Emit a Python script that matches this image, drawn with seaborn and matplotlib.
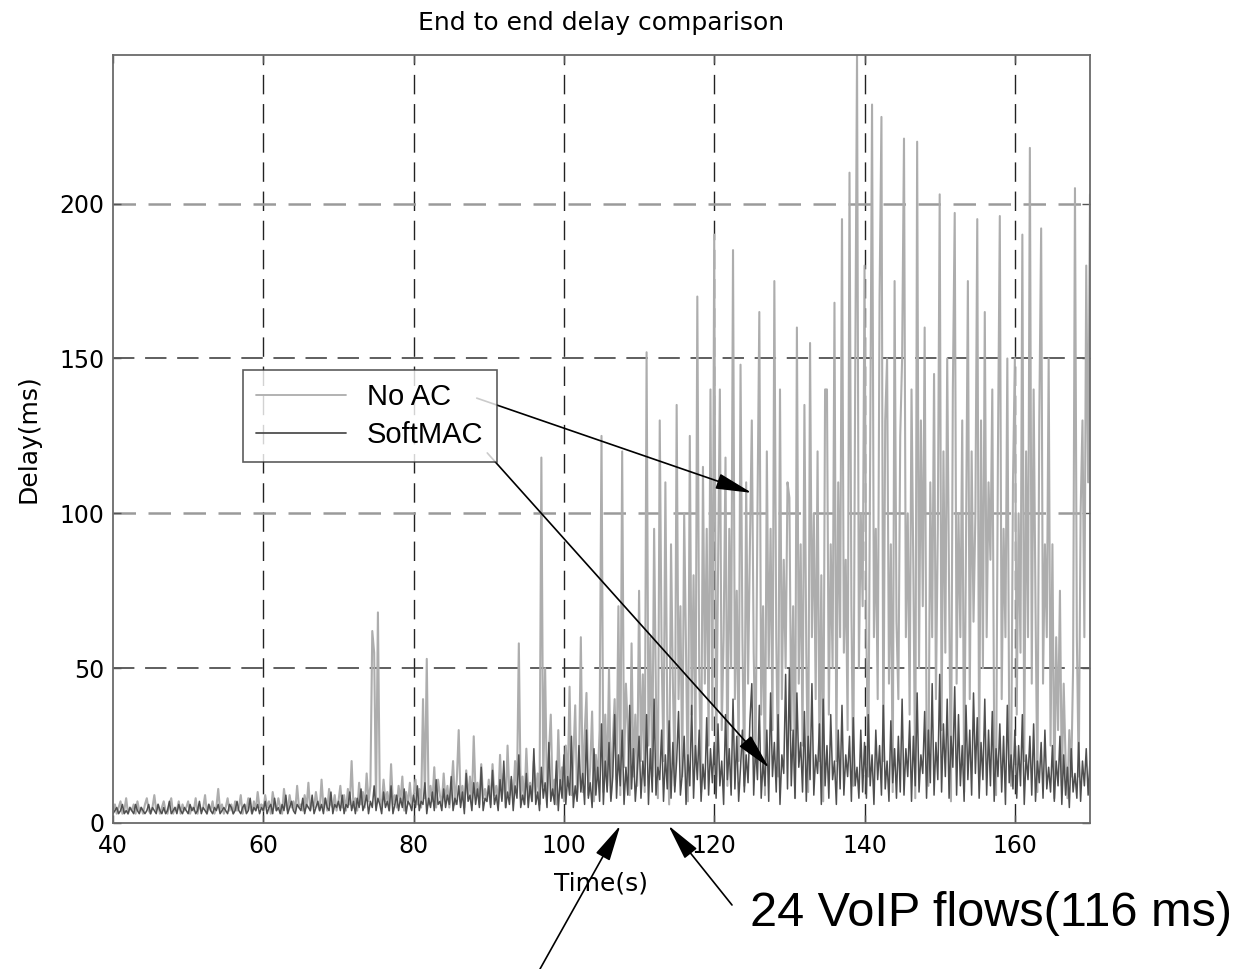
import numpy as np
import pandas as pd
import matplotlib
matplotlib.use("Agg")
import matplotlib.pyplot as plt
import seaborn as sns

# ============================================================================
# DATA  (delay in ms, sampled every 0.25 s from 40 s to 170 s)
# ============================================================================

time_start, time_end, time_step = 40, 170, 0.25

no_ac = [
    4, 6, 3, 5, 7, 3, 4, 8, 3, 5, 4, 6, 3, 7, 4, 5, 3, 6, 8, 4,              # 40
    3, 5, 9, 4, 6, 3, 5, 7, 4, 3, 6, 8, 3, 5, 4, 7, 3, 6, 4, 5,              # 45
    7, 3, 5, 4, 8, 3, 6, 4, 5, 9, 3, 6, 4, 7, 3, 5, 11, 4, 6, 3,             # 50
    5, 8, 4, 6, 3, 7, 4, 5, 9, 3, 6, 4, 8, 5, 3, 7, 4, 10, 5, 6,             # 55
    4, 9, 5, 7, 3, 10, 6, 4, 8, 5, 3, 11, 6, 4, 9, 5, 7, 4, 12, 5,           # 60
    6, 4, 9, 5, 13, 4, 7, 5, 10, 6, 4, 14, 5, 8, 4, 11, 6, 5, 9, 4,          # 65
    7, 12, 5, 9, 4, 11, 6, 20, 5, 8, 4, 13, 6, 10, 5, 16, 7, 12, 62, 55,     # 70
    6, 68, 8, 5, 14, 7, 10, 4, 19, 6, 9, 5, 12, 7, 15, 4, 10, 6, 13, 5,      # 75
    9, 14, 6, 11, 5, 40, 8, 53, 6, 12, 7, 18, 5, 14, 9, 6, 16, 7, 12, 5,     # 80
    10, 20, 6, 14, 30, 7, 12, 5, 17, 8, 15, 6, 28, 9, 13, 6, 19, 8, 11, 7,   # 85
    14, 6, 19, 9, 12, 6, 22, 8, 16, 5, 25, 9, 14, 7, 20, 10, 58, 8, 15, 6,   # 90
    24, 9, 13, 7, 20, 10, 16, 6, 118, 12, 50, 8, 22, 35, 9, 14, 6, 30, 11, 18,  # 95
    7, 25, 12, 44, 9, 20, 38, 8, 16, 60, 10, 28, 42, 9, 18, 36, 7, 22, 14, 30,  # 100
    125, 10, 35, 12, 50, 8, 26, 40, 14, 70, 9, 120, 18, 45, 30, 9, 58, 15, 35, 12,  # 105
    75, 20, 48, 10, 152, 25, 60, 15, 95, 40, 8, 130, 55, 20, 110, 35, 6, 90, 45, 12,  # 110
    135, 40, 70, 15, 100, 55, 7, 125, 35, 80, 20, 170, 50, 10, 115, 45, 95, 25, 140, 30,  # 115
    190, 15, 80, 140, 30, 60, 118, 12, 95, 50, 185, 40, 75, 20, 148, 60, 12, 110, 45, 90,  # 120
    130, 55, 20, 100, 165, 35, 70, 9, 120, 50, 95, 30, 175, 60, 15, 140, 40, 85, 50, 110,  # 125
    105, 30, 70, 8, 160, 45, 90, 25, 135, 55, 10, 155, 60, 100, 40, 120, 20, 80, 7, 140,  # 130
    140, 35, 90, 50, 168, 20, 110, 60, 195, 55, 85, 30, 210, 70, 12, 140, 248, 50, 100, 70,  # 135
    180, 60, 15, 120, 232, 60, 95, 40, 170, 228, 20, 130, 150, 45, 90, 10, 175, 65, 40, 125,  # 140
    150, 221, 60, 100, 35, 140, 80, 8, 220, 50, 130, 70, 160, 30, 12, 110, 60, 145, 40, 95,  # 145
    203, 30, 120, 55, 150, 75, 7, 140, 197, 45, 100, 60, 130, 10, 90, 175, 40, 120, 65, 100,  # 150
    195, 15, 130, 50, 165, 60, 110, 85, 140, 25, 9, 120, 196, 40, 95, 60, 150, 30, 12, 110,  # 155
    150, 35, 100, 55, 190, 20, 120, 60, 218, 45, 140, 70, 10, 130, 192, 45, 90, 60, 150, 25,  # 160
    90, 8, 60, 30, 75, 12, 45, 20, 8, 30, 15, 50, 205, 60, 15, 100, 130, 60, 180, 110,  # 165
    203,                                                                      # 170
]

softmac = [
    3, 4, 5, 3, 4, 6, 3, 4, 3, 5, 4, 3, 6, 4, 3, 5, 4, 3, 4, 6,              # 40
    3, 5, 4, 3, 6, 4, 3, 5, 3, 4, 7, 3, 4, 5, 3, 6, 4, 3, 5, 4,              # 45
    3, 6, 4, 5, 3, 4, 7, 3, 5, 4, 3, 6, 4, 3, 5, 4, 6, 3, 4, 5,              # 50
    4, 3, 6, 5, 3, 4, 7, 4, 3, 5, 6, 3, 4, 8, 3, 5, 4, 6, 3, 5,              # 55
    4, 7, 3, 5, 6, 3, 8, 4, 5, 3, 6, 4, 9, 3, 5, 7, 4, 3, 6, 5,              # 60
    4, 8, 3, 6, 5, 4, 9, 3, 5, 7, 4, 6, 3, 8, 5, 4, 10, 3, 6, 5,             # 65
    7, 4, 9, 3, 6, 5, 10, 4, 7, 3, 8, 5, 11, 4, 6, 9, 3, 7, 5, 12,           # 70
    4, 8, 6, 3, 10, 5, 7, 4, 12, 3, 6, 9, 4, 8, 5, 11, 3, 7, 6, 4,           # 75
    9, 5, 12, 4, 7, 6, 13, 3, 8, 5, 10, 4, 14, 6, 7, 4, 11, 5, 9, 6,         # 80
    15, 4, 8, 6, 12, 5, 10, 3, 16, 7, 9, 4, 13, 6, 11, 5, 18, 4, 8, 7,       # 85
    12, 5, 17, 6, 9, 4, 14, 7, 20, 5, 10, 6, 15, 4, 12, 8, 22, 5, 9, 6,      # 90
    16, 5, 12, 7, 24, 6, 10, 4, 18, 8, 13, 5, 26, 7, 11, 6, 20, 4, 14, 8,    # 95
    22, 6, 15, 9, 28, 5, 12, 7, 25, 10, 16, 6, 30, 8, 13, 5, 24, 9, 18, 7,   # 100
    32, 6, 20, 10, 26, 7, 15, 35, 8, 22, 12, 30, 6, 18, 9, 38, 11, 24, 7, 16,  # 105
    28, 8, 20, 12, 35, 6, 24, 10, 40, 9, 18, 14, 30, 7, 22, 11, 33, 8, 26, 10,  # 110
    20, 36, 9, 16, 28, 6, 22, 12, 38, 8, 25, 14, 30, 7, 19, 11, 34, 9, 24, 13,  # 115
    26, 8, 32, 12, 20, 6, 35, 14, 24, 9, 40, 11, 28, 7, 18, 30, 10, 22, 13, 33,  # 120
    45, 9, 25, 14, 38, 8, 20, 12, 30, 7, 42, 15, 26, 10, 35, 6, 22, 16, 48, 11,  # 125
    50, 12, 30, 8, 42, 18, 26, 10, 36, 7, 28, 14, 45, 9, 22, 16, 32, 6, 40, 12,  # 130
    25, 8, 35, 14, 20, 6, 30, 11, 38, 9, 22, 15, 28, 7, 34, 12, 18, 8, 30, 10,   # 135
    26, 8, 35, 12, 22, 6, 30, 14, 25, 9, 38, 11, 20, 7, 33, 13, 24, 8, 28, 10,   # 140
    40, 9, 24, 15, 33, 7, 28, 12, 42, 10, 22, 16, 36, 8, 30, 13, 45, 9, 26, 14,  # 145
    48, 10, 32, 15, 40, 8, 28, 18, 44, 9, 35, 12, 25, 7, 38, 14, 30, 9, 42, 16,  # 150
    34, 8, 26, 14, 40, 9, 30, 12, 36, 7, 24, 15, 32, 10, 28, 6, 38, 13, 22, 11,  # 155
    30, 8, 25, 12, 35, 6, 22, 14, 28, 9, 32, 7, 20, 13, 26, 8, 30, 11, 18, 10,  # 160
    25, 7, 20, 12, 28, 6, 22, 9, 18, 5, 24, 10, 16, 8, 26, 7, 20, 12, 24, 9,    # 165
    20,                                                                         # 170
]

series_names = ["No AC", "SoftMAC"]
series_colors = ["#adadad", "#4f4f4f"]
series_widths = [1.5, 1.1]
x_ticks = [40, 60, 80, 100, 120, 140, 160]
y_ticks = [0, 50, 100, 150, 200]

# ============================================================================
# PLOT
# ============================================================================

sns.set_theme(style="white")
plt.rcParams['font.family'] = ['DejaVu Sans']
plt.rcParams['text.color'] = 'black'
plt.rcParams['axes.labelcolor'] = 'black'
plt.rcParams['xtick.color'] = 'black'
plt.rcParams['ytick.color'] = 'black'

time = np.arange(time_start, time_end + time_step / 2, time_step)
df = pd.DataFrame({
    "Time": np.concatenate([time, time]),
    "Delay": no_ac + softmac,
    "Series": [series_names[0]] * len(no_ac) + [series_names[1]] * len(softmac),
})

fig = plt.figure(figsize=(12.37, 9.69), dpi=100)
ax = fig.add_axes([113 / 1237, 1 - 823 / 969, (1090 - 113) / 1237, (823 - 55) / 969])

sns.lineplot(data=df, x="Time", y="Delay", hue="Series",
             palette=dict(zip(series_names, series_colors)),
             estimator=None, linewidth=1.0, ax=ax)
for line, lw in zip(ax.get_lines(), series_widths):
    line.set_linewidth(lw)

ax.set_xlim(40, 170)
ax.set_ylim(0, 248)
ax.set_xticks(x_ticks)
ax.set_yticks(y_ticks)

# grid: dashed, MATLAB-like
for xv in x_ticks[1:]:
    ax.axvline(xv, color="#222222", lw=1.0, ls=(0, (14, 7)), zorder=0.5)
for yv in y_ticks[1:]:
    if yv in (100, 200):
        ax.axhline(yv, color="#9a9a9a", lw=1.8, ls=(0, (9, 5)), zorder=0.5)
    else:
        ax.axhline(yv, color="#333333", lw=1.1, ls=(0, (14, 7)), zorder=0.5)

for sp in ax.spines.values():
    sp.set_color("#6a6a6a")
    sp.set_linewidth(1.3)

ax.tick_params(axis="both", direction="in", length=6, width=1, color="#555555",
               labelsize=17, labelcolor="black",
               top=True, right=True, bottom=True, left=True)
ax.tick_params(axis="x", pad=8)
ax.tick_params(axis="y", pad=6)

ax.set_xlabel("Time(s)", fontsize=18, labelpad=10)
ax.set_ylabel("Delay(ms)", fontsize=18, labelpad=14)
ax.set_title("End to end delay comparison", fontsize=18, pad=18)

handles, labels = ax.get_legend_handles_labels()
leg = ax.legend(handles, labels, loc="upper left", bbox_to_anchor=(0.133, 0.590),
                frameon=True, fancybox=False, edgecolor="#333333",
                prop={"family": "Liberation Sans", "size": 21},
                handlelength=3.1, handletextpad=0.7, borderpad=0.45,
                labelspacing=0.35, borderaxespad=0)
leg.get_frame().set_linewidth(1.2)
for h in leg.get_lines():
    h.set_linewidth(1.3)

arrow_kw = dict(arrowstyle="-|>,head_length=1.6,head_width=0.35", color="black",
                lw=1.2, mutation_scale=14, shrinkA=0, shrinkB=0)

# legend pointers
ax.annotate("", xy=(125.0, 106.6), xytext=(88.4, 137.2),
            xycoords="data", textcoords="data", arrowprops=arrow_kw)
ax.annotate("", xy=(127.3, 17.8), xytext=(89.8, 119.5),
            xycoords="data", textcoords="data", arrowprops=arrow_kw)

# bottom pointers
ax.annotate("", xy=(107.5, -0.8), xytext=(540 / 1237, 0.0),
            xycoords="data", textcoords="figure fraction",
            arrowprops=arrow_kw, annotation_clip=False)
ax.annotate("", xy=(113.9, -0.8), xytext=(732 / 1237, 1 - 905 / 969),
            xycoords="data", textcoords="figure fraction",
            arrowprops=arrow_kw, annotation_clip=False)
fig.text(750 / 1237, 1 - 913 / 969, "24 VoIP flows(116 ms)", ha="left", va="center",
         fontsize=35, family="Liberation Sans", color="black")

fig.savefig("out.png", dpi=100)
